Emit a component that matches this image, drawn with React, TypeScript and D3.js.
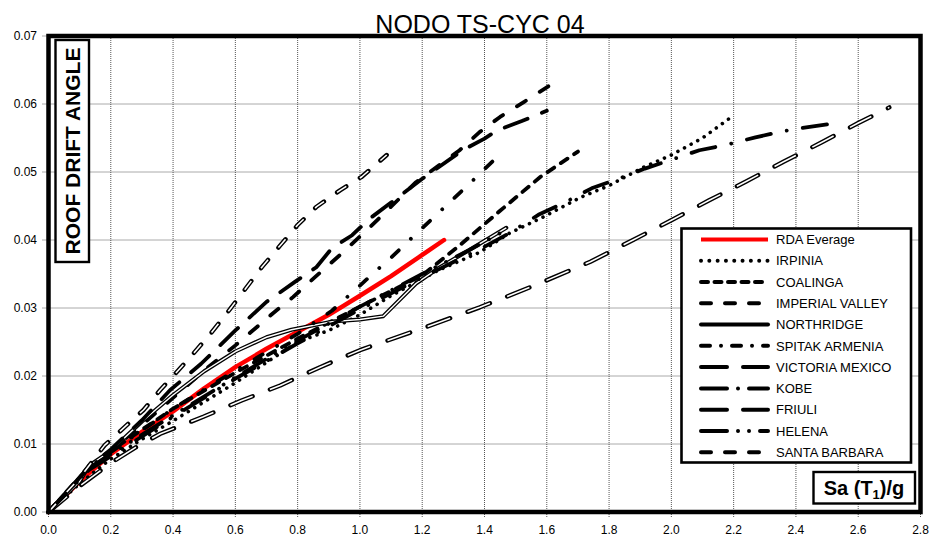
import React from "react";
import * as d3 from "d3";

type Pt = [number, number];

const chartTitle = "NODO TS-CYC 04";
const yAxisTitle = "ROOF DRIFT ANGLE";
const xTicks = [0, 0.2, 0.4, 0.6, 0.8, 1.0, 1.2, 1.4, 1.6, 1.8, 2.0, 2.2, 2.4, 2.6, 2.8];
const yTicks = [0, 0.01, 0.02, 0.03, 0.04, 0.05, 0.06, 0.07];

const seriesNames = [
  "RDA Everage", "IRPINIA", "COALINGA", "IMPERIAL VALLEY", "NORTHRIDGE",
  "SPITAK ARMENIA", "VICTORIA MEXICO", "KOBE", "FRIULI", "HELENA", "SANTA BARBARA",
];

const rdaPts: Pt[] = [[0,0],[0.1,0.0045],[0.2,0.0085],[0.3,0.0118],[0.4,0.0148],[0.5,0.0182],[0.6,0.0213],[0.7,0.024],[0.8,0.0265],[0.9,0.029],[1.0,0.0318],[1.1,0.0347],[1.2,0.0378],[1.27,0.04]];
const irpiniaPts: Pt[] = [[0,0],[0.1,0.0042],[0.2,0.0078],[0.3,0.0107],[0.4,0.0134],[0.5,0.0162],[0.6,0.019],[0.7,0.022],[0.8,0.025],[0.9,0.0267],[1.0,0.029],[1.1,0.0318],[1.25,0.0355],[1.385,0.0382],[1.48,0.041],[1.59,0.0434],[1.71,0.0463],[1.8,0.048],[1.91,0.0507],[2.0,0.0525],[2.1,0.055],[2.19,0.058]];
const coalingaPts: Pt[] = [[0,0],[0.13,0.0066],[0.2,0.009],[0.4,0.0152],[0.6,0.0205],[0.8,0.0255],[1.0,0.0302],[1.2,0.0348],[1.32,0.0392],[1.45,0.0443],[1.58,0.0493],[1.7,0.053]];
const imperialPts: Pt[] = [[0,0],[0.13,0.0067],[0.2,0.009],[0.3,0.0128],[0.41,0.0172],[0.51,0.0212],[0.6,0.0245],[0.72,0.0292],[0.785,0.0316],[0.862,0.0348],[0.936,0.0378],[1.03,0.0418],[1.1,0.0449],[1.18,0.0485],[1.21,0.0495],[1.32,0.0532],[1.385,0.0559],[1.45,0.0581],[1.53,0.0604],[1.605,0.0626]];
const northridgePts: Pt[] = [[0,0],[0.1,0.0045],[0.13,0.0068],[0.2,0.009],[0.3,0.0133],[0.4,0.0172],[0.5,0.0207],[0.6,0.0236],[0.7,0.0257],[0.78,0.0268],[0.91,0.028],[1.0,0.0283],[1.075,0.0288],[1.18,0.0336],[1.25,0.0358],[1.35,0.0385],[1.47,0.0418]];
const spitakPts: Pt[] = [[0,0],[0.13,0.0066],[0.2,0.0088],[0.4,0.0152],[0.6,0.0208],[0.8,0.0262],[0.91,0.0296],[1.0,0.0333],[1.05,0.0354],[1.1,0.0374],[1.15,0.0396],[1.25,0.0439],[1.35,0.0482],[1.44,0.0522]];
const victoriaPts: Pt[] = [[0,0],[0.1,0.0038],[0.2,0.0072],[0.28,0.0095],[0.359,0.0115],[0.497,0.014],[0.62,0.0164],[0.744,0.0186],[0.872,0.0213],[1.0,0.0238],[1.2,0.027],[1.385,0.0301],[1.56,0.0333],[1.74,0.0368],[1.877,0.04],[2.0,0.0429],[2.12,0.0458],[2.24,0.0486],[2.36,0.0515],[2.48,0.0543],[2.6,0.0572],[2.7,0.0595]];
const kobePts: Pt[] = [[0,0],[0.13,0.0062],[0.2,0.0082],[0.4,0.014],[0.6,0.0196],[0.8,0.0248],[1.0,0.0298],[1.2,0.0345],[1.4,0.039],[1.48,0.041],[1.573,0.0437],[1.653,0.0454],[1.744,0.0476],[1.824,0.0489],[1.915,0.0505],[2.0,0.0518],[2.09,0.0532],[2.177,0.054],[2.27,0.0551],[2.36,0.056],[2.41,0.0564],[2.5,0.057]];
const friuliPts: Pt[] = [[0,0],[0.13,0.0066],[0.2,0.0092],[0.3,0.0135],[0.39,0.0179],[0.49,0.0218],[0.6,0.0267],[0.7,0.0309],[0.79,0.0338],[0.86,0.036],[0.91,0.0388],[0.975,0.0407],[1.03,0.0431],[1.1,0.0455],[1.2,0.049],[1.33,0.0532],[1.4,0.0549],[1.44,0.0561],[1.52,0.0575],[1.6,0.059]];
const helenaPts: Pt[] = [[0,0],[0.13,0.0064],[0.2,0.0085],[0.4,0.0142],[0.6,0.0198],[0.8,0.0252],[1.0,0.0302],[1.2,0.035],[1.35,0.0385],[1.47,0.0415]];
const santaBarbaraPts: Pt[] = [[0,0],[0.1,0.005],[0.18,0.0098],[0.24,0.0123],[0.305,0.015],[0.358,0.0179],[0.45,0.0225],[0.52,0.0262],[0.584,0.0299],[0.685,0.036],[0.744,0.0392],[0.8,0.0422],[0.861,0.0449],[0.936,0.0473],[1.006,0.0493],[1.086,0.0525]];

const seriesData: Pt[][] = [rdaPts, irpiniaPts, coalingaPts, imperialPts, northridgePts, spitakPts, victoriaPts, kobePts, friuliPts, helenaPts, santaBarbaraPts];

type Sty = { color: string; width: number; dash: string; hollow?: boolean; legendDash?: string };
const styles: Sty[] = [
  { color: "#ff0000", width: 4.5, dash: "" },
  { color: "#000", width: 3.6, dash: "0.01 7.5", legendDash: "0.01 8.3" },
  { color: "#000", width: 3.8, dash: "8 8", legendDash: "7 6.5" },
  { color: "#000", width: 3.8, dash: "10.5 16.5", legendDash: "10 14" },
  { color: "#000", width: 4, dash: "", hollow: true },
  { color: "#000", width: 3.8, dash: "9.5 16.75 0.01 16.75", legendDash: "9 11 0.01 11" },
  { color: "#000", width: 4.4, dash: "24 18.5", hollow: true, legendDash: "26 16" },
  { color: "#000", width: 3.8, dash: "24.5 16.25 0.01 16.25", legendDash: "26 11 0.01 11" },
  { color: "#000", width: 3.8, dash: "24.5 15.5", legendDash: "26 16" },
  { color: "#000", width: 3.8, dash: "24.5 12 0.01 12 0.01 12", legendDash: "26 11 0.01 11 0.01 11" },
  { color: "#000", width: 4.4, dash: "11 16", hollow: true, legendDash: "10 14" },
];

const W = 933;
const H = 536;
const X0 = 48.5, X1 = 920.5, Y0 = 36, Y1 = 512;
const FONT = "'Liberation Sans', Arial, sans-serif";

export default function App() {
  const x = d3.scaleLinear().domain([0, 2.8]).range([X0, X1]);
  const y = d3.scaleLinear().domain([0, 0.07]).range([Y1, Y0]);
  const line = d3.line<Pt>().x((d) => x(d[0])).y((d) => y(d[1]));

  const legX = 681.5, legY = 228.5, legW = 229.5, legH = 234;
  const rowY = (i: number) => 239.5 + i * 21.27;

  return (
    <svg width={W} height={H} style={{ position: "absolute", left: 0, top: 0, background: "#fff" }} fontFamily={FONT}>
      <rect x={0} y={0} width={W} height={H} fill="#fff" />
      {xTicks.map((t) => (
        <line key={"gx" + t} x1={x(t)} x2={x(t)} y1={Y0} y2={Y1 + 5} stroke="#555" strokeWidth={1} strokeDasharray="1 1" />
      ))}
      {yTicks.map((t) => (
        <line key={"gy" + t} x1={X0 - 6} x2={X1} y1={y(t)} y2={y(t)} stroke="#555" strokeWidth={1} strokeDasharray="1 1" />
      ))}
      {yTicks.map((t) => (
        <text key={"ly" + t} x={37} y={y(t) + 4.3} fontSize={12} textAnchor="end" fill="#000">
          {d3.format(".2f")(t)}
        </text>
      ))}
      {xTicks.map((t) => (
        <text key={"lx" + t} x={x(t)} y={533.5} fontSize={12} textAnchor="middle" fill="#000">
          {d3.format(".1f")(t)}
        </text>
      ))}
      {seriesNames.map((_, i) => {
        const s = styles[i];
        const d = line(seriesData[i]) || "";
        return (
          <g key={"s" + i}>
            <path d={d} fill="none" stroke={s.color} strokeWidth={s.width} strokeDasharray={s.dash || undefined} strokeLinecap="round" strokeLinejoin="round" />
            {s.hollow && (
              <path d={d} fill="none" stroke="#fff" strokeWidth={s.width * 0.36} strokeDasharray={s.dash || undefined} strokeLinecap="butt" strokeLinejoin="round" />
            )}
          </g>
        );
      })}
      <rect x={X0} y={Y0} width={X1 - X0} height={Y1 - Y0} fill="none" stroke="#000" strokeWidth={4.5} />
      <text x={480} y={32.5} fontSize={25} textAnchor="middle" fill="#000">{chartTitle}</text>
      <rect x={55.5} y={40} width={33.5} height={222} fill="#fff" stroke="#000" strokeWidth={2.4} />
      <text transform="translate(72.5,151) rotate(-90)" fontSize={21} fontWeight="bold" textAnchor="middle" dominantBaseline="central" fill="#000">
        {yAxisTitle}
      </text>
      <rect x={813.5} y={472} width={101.5} height={31.5} fill="#fff" stroke="#000" strokeWidth={2.4} />
      <text x={864} y={495} fontSize={20} fontWeight="bold" textAnchor="middle" fill="#000">
        Sa (T<tspan fontSize={13} dy={4}>1</tspan><tspan dy={-4}>)/g</tspan>
      </text>
      <rect x={legX} y={legY} width={legW} height={legH} fill="#fff" stroke="#000" strokeWidth={2.6} />
      {seriesNames.map((n, i) => {
        const s = styles[i];
        const yy = rowY(i);
        return (
          <g key={"leg" + i}>
            <line x1={701} x2={768} y1={yy} y2={yy} stroke={s.color} strokeWidth={4} strokeDasharray={s.legendDash || s.dash || undefined} strokeLinecap={i === 0 ? "butt" : "round"} />
            <text x={776} y={yy + 4.7} fontSize={13} fill="#000">{n}</text>
          </g>
        );
      })}
    </svg>
  );
}
